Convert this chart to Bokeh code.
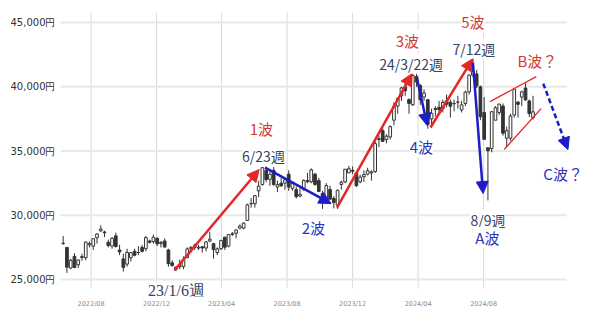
import pandas as pd
from bokeh.plotting import figure
from bokeh.models import (Range1d, FixedTicker, DatetimeTickFormatter, ColumnDataSource,
                          Arrow, NormalHead, Label)
from bokeh.embed import file_html
from bokeh.resources import INLINE

# ---- weekly OHLC (week ending Friday) ----
first_week = "2022-06-10"
opens = [27800, 27500, 25900, 26800, 26150, 26700, 26700, 27700, 27600, 28250,
         28800, 28700, 27900, 27600, 28400, 27300, 26600, 26200, 26700, 27200,
         27100, 27500, 27400, 28000, 27950, 28200, 27800, 28000, 27300, 26300,
         25800, 26000, 26000, 26700, 27400, 27500, 27450, 27550, 27450, 28000,
         27800, 27100, 27400, 28300, 27600, 28500, 28600, 29000, 29000, 29600,
         30900, 30900, 31900, 32400, 33500, 32800, 33500, 32200, 32500, 32500,
         33200, 32100, 32000, 31500, 32000, 32700, 32600, 33200, 32700, 31700,
         31200, 32000, 31300, 30800, 32400, 32600, 33300, 33500, 33300, 32600,
         33000, 33200, 33300, 33400, 35900, 36600, 35900, 36100, 37400, 38500,
         39300, 40000, 39000, 38600, 40800, 40100, 39200, 39000, 37500, 38300,
         38400, 38300, 38900, 38800, 38700, 38800, 38200, 38700, 39600, 40900,
         41000, 40000, 38000, 35250, 35200, 37400, 38000, 38500, 36000, 36000,
         37800, 38800, 39200, 39900, 38900, 37600]
highs = [28390, 27500, 26600, 27060, 26550, 27000, 27950, 27950, 28200, 28600,
         29220, 28800, 28100, 28300, 28650, 27700, 27000, 27400, 27100, 27400,
         27600, 27700, 28400, 28100, 28500, 28300, 28000, 28200, 27400, 26500,
         26000, 26550, 26800, 27500, 27600, 27800, 27700, 27600, 28000, 28700,
         27800, 27500, 28100, 28300, 28500, 28700, 28900, 29300, 29450, 30900,
         31350, 31560, 32700, 33720, 33772, 33500, 33750, 32700, 32900, 32900,
         33500, 32600, 32250, 32300, 32800, 33300, 33650, 33300, 32900, 31900,
         32500, 32300, 31500, 32000, 32700, 33600, 33850, 33800, 33400, 33150,
         33500, 33700, 33500, 35800, 36200, 36800, 36300, 37000, 38800, 39150,
         39990, 40470, 39100, 41090, 41000, 40200, 39800, 39000, 38300, 38500,
         38900, 39000, 39400, 39000, 39000, 39300, 38900, 39700, 40950, 42430,
         41300, 40100, 39200, 35300, 38100, 38500, 38700, 38700, 36900, 37900,
         39830, 38900, 39700, 40260, 39000, 39300]
lows = [27700, 25520, 25800, 25900, 25900, 26450, 26500, 27500, 27300, 27800,
        28700, 28300, 27500, 27400, 27500, 26900, 25620, 26000, 26400, 26800,
        26900, 27100, 27200, 27800, 27800, 27600, 27500, 27500, 26000, 26000,
        25660, 25800, 25800, 26700, 27100, 27300, 27300, 27100, 27200, 27900,
        26630, 26900, 27300, 27300, 27500, 28400, 28200, 28900, 28900, 29600,
        30600, 30600, 31400, 32300, 32575, 32300, 32300, 31800, 32200, 32000,
        31900, 31900, 31300, 31400, 31900, 32500, 32500, 32300, 31800, 30500,
        31000, 31200, 30540, 30500, 32000, 32500, 33300, 33200, 32200, 32500,
        32600, 33100, 32700, 33300, 35300, 35700, 35600, 35900, 37000, 37900,
        38900, 39300, 37900, 38500, 40000, 38600, 38900, 36730, 37000, 37700,
        37900, 38000, 38400, 37600, 38100, 38300, 38000, 38500, 39400, 40800,
        39900, 37400, 35880, 31156, 34900, 37400, 37800, 36200, 35250, 35800,
        37600, 37600, 38500, 38900, 37650, 37450]
closes = [27824, 25963, 26491, 25935, 26517, 26788, 27914, 27801, 28175, 28546,
          28930, 28641, 27650, 28214, 27567, 27153, 25937, 27116, 27090, 26891,
          27105, 27199, 28263, 27899, 28283, 27777, 27901, 27527, 26235, 26094,
          25973, 26119, 26553, 27382, 27509, 27670, 27513, 27453, 27927, 28143,
          27333, 27385, 28041, 27518, 28493, 28564, 28856, 29157, 29388, 30808,
          30916, 31524, 32265, 33706, 32781, 33189, 32388, 32391, 32304, 32759,
          32193, 32473, 31450, 31624, 32710, 32606, 33533, 32402, 31857, 30994,
          32315, 31259, 30991, 31949, 32568, 33585, 33625, 33431, 32307, 32970,
          33169, 33464, 33377, 35577, 35963, 35751, 36158, 36897, 38487, 39098,
          39910, 39688, 38707, 40888, 40369, 38992, 39523, 37068, 37934, 38236,
          38229, 38787, 38646, 38487, 38683, 38814, 38596, 39583, 40912, 41190,
          40063, 37667, 35909, 35025, 38062, 38364, 38647, 36391, 36581, 37723,
          39830, 38635, 39605, 38981, 37913, 38053]

# ---- axes ----
x_ticks = ["2022-08-01", "2022-12-01", "2023-04-01", "2023-08-01",
           "2023-12-01", "2024-04-01", "2024-08-01"]
y_ticks = [25000, 30000, 35000, 40000, 45000]
y_tick_labels = ["25,000円", "30,000円", "35,000円", "40,000円", "45,000円"]

# ---- wave annotations ----
arrow_x0 = ["2023-01-03", "2023-06-21", "2023-11-02", "2024-03-30", "2024-04-24", "2024-07-12", "2024-11-20"]
arrow_y0 = [25700, 33710, 30600, 40640, 36830, 41880, 40250]
arrow_x1 = ["2023-06-10", "2023-10-22", "2024-03-21", "2024-04-18", "2024-07-12", "2024-07-31", "2025-01-05"]
arrow_y1 = [33560, 30910, 41030, 36980, 42190, 31690, 35110]
arrow_kind = ["up", "down", "up", "down", "up", "down", "down"]
arrow_dash = ["solid", "solid", "solid", "solid", "solid", "solid", "5 3"]

chan_x0 = ["2024-08-13", "2024-09-08"]
chan_y0 = [38850, 35110]
chan_x1 = ["2024-11-07", "2024-11-16"]
chan_y1 = [40790, 38300]

label_text = ["1波", "6/23週", "2波", "23/1/6週", "3波", "24/3/22週", "5波", "7/12週",
              "B波？", "4波", "8/9週", "A波", "C波？"]
label_x = ["2023-06-14", "2023-06-18", "2023-09-19", "2023-01-07", "2024-03-12", "2024-03-19",
           "2024-07-12", "2024-07-14", "2024-11-09", "2024-04-07", "2024-08-09", "2024-08-08",
           "2024-12-27"]
label_y = [36750, 34650, 29050, 24150, 43600, 41800, 45070, 42970, 42040, 35350, 29670, 28270, 33250]
label_kind = ["red", "date", "blue", "serif", "red", "date", "red", "date", "red", "blue",
              "date", "blue", "blue"]

RED = "#e32626"
RED_TXT = "#d23a3a"
BLUE = "#1c1cc8"
BLUE_TXT = "#2e32c0"
DATE_TXT = "#364466"

# visible chart area (grid extent) and the wider drawing frame
GRID_X = ("2022-06-05", "2025-01-03")
GRID_Y = (24300, 45780)
FRAME_X = ("2022-06-05", "2025-02-16")
FRAME_Y = (23680, 45780)


def ms(d):
    return pd.Timestamp(d).value / 1e6


weeks = pd.date_range(first_week, periods=len(closes), freq="W-FRI")
wx = [ms(d) for d in weeks]
top = [max(o, c) for o, c in zip(opens, closes)]
bot = [min(o, c) for o, c in zip(opens, closes)]
fill = ["white" if c >= o else "#333333" for o, c in zip(opens, closes)]
src = ColumnDataSource(dict(x=wx, top=top, bot=bot, high=highs, low=lows, fill=fill))

p = figure(width=600, height=313, x_axis_type="datetime",
           x_range=Range1d(ms(FRAME_X[0]), ms(FRAME_X[1])),
           y_range=Range1d(*FRAME_Y),
           output_backend="svg", toolbar_location=None,
           min_border_left=60, min_border_right=10, min_border_top=12, min_border_bottom=17)
p.outline_line_color = None
p.background_fill_color = "white"

p.xaxis.ticker = FixedTicker(ticks=[ms(d) for d in x_ticks])
fmt = "%Y/%m"
p.xaxis.formatter = DatetimeTickFormatter(microseconds=fmt, milliseconds=fmt, seconds=fmt,
                                          minsec=fmt, minutes=fmt, hourmin=fmt, hours=fmt,
                                          days=fmt, months=fmt, years=fmt)
p.yaxis.ticker = FixedTicker(ticks=y_ticks)
p.yaxis.major_label_overrides = dict(zip(y_ticks, y_tick_labels))

for ax in (p.xaxis, p.yaxis):
    ax.axis_line_color = None
    ax.major_tick_line_color = None
    ax.minor_tick_line_color = None
    ax.major_tick_in = 0
    ax.major_tick_out = 0
p.yaxis.major_label_text_font = "DejaVu Sans"
p.yaxis.major_label_text_font_size = "10px"
p.yaxis.major_label_text_color = "#333333"
p.yaxis.major_label_standoff = 5
p.xaxis.major_label_text_font = "DejaVu Sans"
p.xaxis.major_label_text_font_size = "6.5px"
p.xaxis.major_label_text_color = "#8a8a8a"
p.xaxis.major_label_standoff = 3

p.xgrid.visible = False
p.ygrid.visible = False

# grid lines, limited to the chart area
xt = [ms(d) for d in x_ticks]
p.segment(x0=xt, x1=xt, y0=[GRID_Y[0]] * len(xt), y1=[GRID_Y[1]] * len(xt),
          line_color="#d9d9d9", line_width=1)
p.segment(x0=[ms(GRID_X[0])] * len(y_ticks), x1=[ms(GRID_X[1])] * len(y_ticks),
          y0=y_ticks, y1=y_ticks, line_color="#e8e8e8", line_width=2)

# candles
p.segment(x0="x", x1="x", y0="high", y1="low", source=src, line_color="#333333", line_width=1)
p.vbar(x="x", width=5 * 86400000, top="top", bottom="bot", source=src,
       fill_color="fill", line_color="#333333", line_width=1)

# channel lines
p.segment(x0=[ms(d) for d in chan_x0], y0=chan_y0, x1=[ms(d) for d in chan_x1], y1=chan_y1,
          line_color=RED, line_width=1.3)

# arrows
for x0, y0, x1, y1, k, dsh in zip(arrow_x0, arrow_y0, arrow_x1, arrow_y1, arrow_kind, arrow_dash):
    c = RED if k == "up" else BLUE
    p.add_layout(Arrow(end=NormalHead(size=12, fill_color=c, line_color=c, line_width=1),
                       x_start=ms(x0), y_start=y0, x_end=ms(x1), y_end=y1,
                       line_color=c, line_width=2.5, line_dash=dsh))

# labels
for t, x, y, k in zip(label_text, label_x, label_y, label_kind):
    if k == "red":
        col, font, size = RED_TXT, "Noto Sans CJK JP", "15px"
    elif k == "blue":
        col, font, size = BLUE_TXT, "Noto Sans CJK JP", "15px"
    elif k == "date":
        col, font, size = DATE_TXT, "Noto Sans CJK JP", "14px"
    else:
        col, font, size = DATE_TXT, "Liberation Serif", "16px"
    p.add_layout(Label(x=ms(x), y=y, text=t, text_align="center", text_baseline="middle",
                       text_color=col, text_font=font, text_font_size=size,
                       background_fill_color="white", background_fill_alpha=1.0))

open("out.html", "w").write(file_html(p, INLINE))
